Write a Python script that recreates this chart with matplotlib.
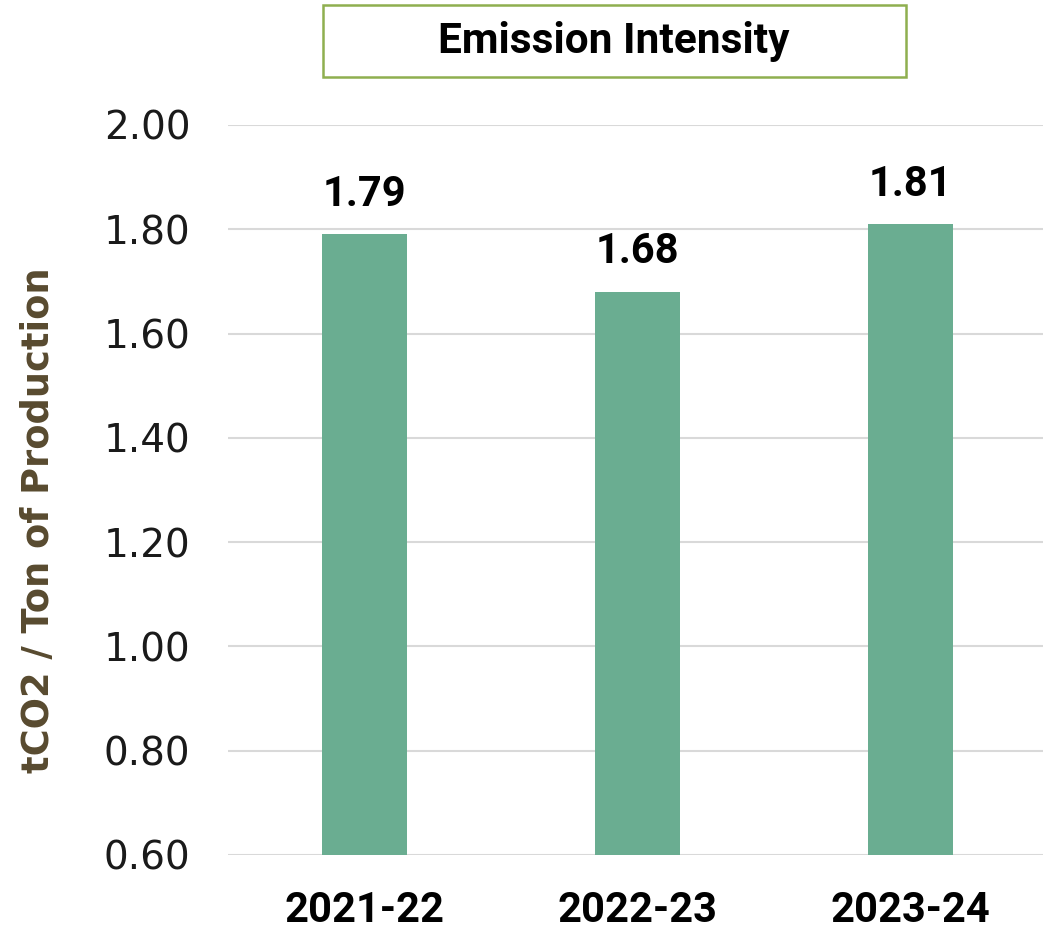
import matplotlib
matplotlib.use("Agg")
import matplotlib.pyplot as plt
from matplotlib.patches import Rectangle

# Emission intensity by financial year
years = ["2021-22", "2022-23", "2023-24"]
intensity = [1.79, 1.68, 1.81]
y_ticks = [0.60, 0.80, 1.00, 1.20, 1.40, 1.60, 1.80, 2.00]

W, H = 1043, 933
fig = plt.figure(figsize=(W / 100, H / 100), dpi=100)

# Plot area in pixel coordinates
left, right, bottom, top = 228, 1043, 855, 125
ax = fig.add_axes([left / W, 1 - bottom / H, (right - left) / W, (bottom - top) / H])

x = list(range(len(years)))
ax.bar(x, intensity, width=0.31, color="#6aad91", zorder=3)

ax.set_ylim(0.60, 2.00)
ax.set_xlim(-0.5, -0.5 + (right - left) / 273)
ax.set_yticks(y_ticks)
ax.set_yticklabels([f"{v:.2f}" for v in y_ticks], fontsize=28, family="DejaVu Sans",
                   color="#1a1a1a")
ax.set_xticks(x)
ax.set_xticklabels(years, fontsize=30, fontweight="bold", family="Roboto", color="black")
ax.tick_params(axis="y", length=0, pad=27)
ax.tick_params(axis="x", length=0, pad=25)
ax.grid(axis="y", color="#d9d9d9", linewidth=1.5, zorder=0)
for s in ax.spines.values():
    s.set_visible(False)

for xi, v in zip(x, intensity):
    ax.annotate(f"{v:.2f}", (xi, v), xytext=(0, 14), textcoords="offset points",
                ha="center", va="bottom", fontsize=30, fontweight="bold",
                family="Roboto", color="black")

fig.text(20 / W, 1 - 520 / H, "tCO2 / Ton of Production", rotation=90,
         ha="left", va="center", fontsize=26.5, fontweight="bold",
         family="DejaVu Sans", color="#584a2f")

# Title box
fig.patches.append(Rectangle((323 / W, 1 - 77 / H), (906 - 323) / W, (77 - 5) / H,
                             transform=fig.transFigure, fill=False,
                             edgecolor="#8faf4f", linewidth=1.8))
fig.text(614 / W, 1 - 42 / H, "Emission Intensity", ha="center", va="center",
         fontsize=30.5, fontweight="bold", family="Roboto", color="black")

fig.savefig("out.png", dpi=100)
